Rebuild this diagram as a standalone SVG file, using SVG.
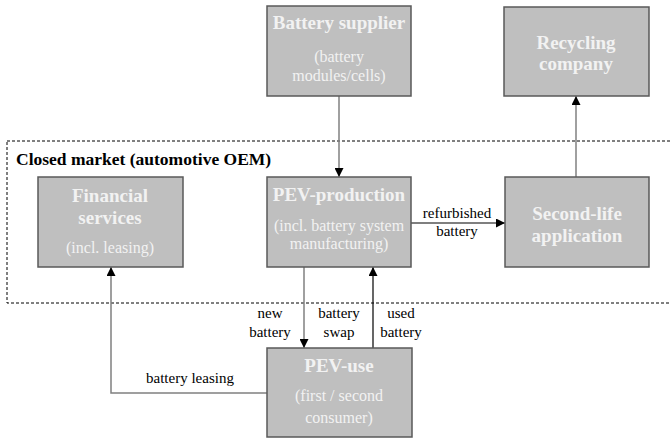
<svg xmlns="http://www.w3.org/2000/svg" width="671" height="441" viewBox="0 0 671 441" font-family="Liberation Serif, Times New Roman, serif">
<style>
.box{fill:#bfbfbf;stroke:#595959;stroke-width:1.5}
.t{fill:#f2f2f2;text-anchor:middle}
.h{font-size:19px;font-weight:bold}
.s{font-size:16px}
.l{font-size:15px;fill:#000;text-anchor:middle}
.c{font-size:17.5px;font-weight:bold;fill:#000}
.g{stroke:#808080;stroke-width:1.5;fill:none}
.k{stroke:#000;stroke-width:1.2;fill:none}
</style>
<defs>
<marker id="ah" viewBox="0 0 10 10" refX="10" refY="5" markerWidth="9" markerHeight="9" markerUnits="userSpaceOnUse" orient="auto">
<path d="M0,0 L10,5 L0,10 Z" fill="#000"/>
</marker>
</defs>
<rect x="7" y="141" width="680" height="162" fill="none" stroke="#000" stroke-width="1" stroke-dasharray="3,2"/>
<text class="c" x="16" y="165">Closed market (automotive OEM)</text>
<g id="connectors">
<line class="g" x1="339" y1="96" x2="339" y2="177" marker-end="url(#ah)"/>
<line class="g" x1="576" y1="177" x2="576" y2="96" marker-end="url(#ah)"/>
<line class="k" x1="411" y1="223" x2="505" y2="223" marker-end="url(#ah)"/>
<line class="g" x1="304" y1="267" x2="304" y2="348" marker-end="url(#ah)"/>
<line class="k" x1="373" y1="348" x2="373" y2="267" marker-end="url(#ah)"/>
<polyline class="g" points="267,393 111,393 111,267" marker-end="url(#ah)"/>
<text class="l" x="457" y="218">refurbished</text>
<text class="l" x="457" y="236">battery</text>
<text class="l" x="270" y="318">new</text>
<text class="l" x="270" y="337">battery</text>
<text class="l" x="339" y="318">battery</text>
<text class="l" x="339" y="337">swap</text>
<text class="l" x="401" y="318">used</text>
<text class="l" x="401" y="337">battery</text>
<text class="l" x="190" y="383">battery leasing</text>
</g>
<g id="battery-supplier">
<rect class="box" x="267" y="6" width="144" height="90"/>
<text class="t h" x="339" y="29">Battery supplier</text>
<text class="t s" x="339" y="62">(battery</text>
<text class="t s" x="339" y="81">modules/cells)</text>
</g>
<g id="recycling">
<rect class="box" x="504" y="7" width="145" height="89"/>
<text class="t h" x="576" y="49">Recycling</text>
<text class="t h" x="576" y="70">company</text>
</g>
<g id="financial">
<rect class="box" x="38" y="177" width="145" height="90"/>
<text class="t h" x="110" y="202">Financial</text>
<text class="t h" x="110" y="224">services</text>
<text class="t s" x="110" y="253">(incl. leasing)</text>
</g>
<g id="pev-production">
<rect class="box" x="267" y="177" width="144" height="90"/>
<text class="t h" x="339" y="201">PEV-production</text>
<text class="t s" x="339" y="231">(incl. battery system</text>
<text class="t s" x="339" y="249">manufacturing)</text>
</g>
<g id="second-life">
<rect class="box" x="505" y="177" width="144" height="90"/>
<text class="t h" x="577" y="220">Second-life</text>
<text class="t h" x="577" y="242">application</text>
</g>
<g id="pev-use">
<rect class="box" x="267" y="348" width="145" height="89"/>
<text class="t h" x="339" y="372">PEV-use</text>
<text class="t s" x="339" y="401">(first / second</text>
<text class="t s" x="339" y="423">consumer)</text>
</g>
</svg>
